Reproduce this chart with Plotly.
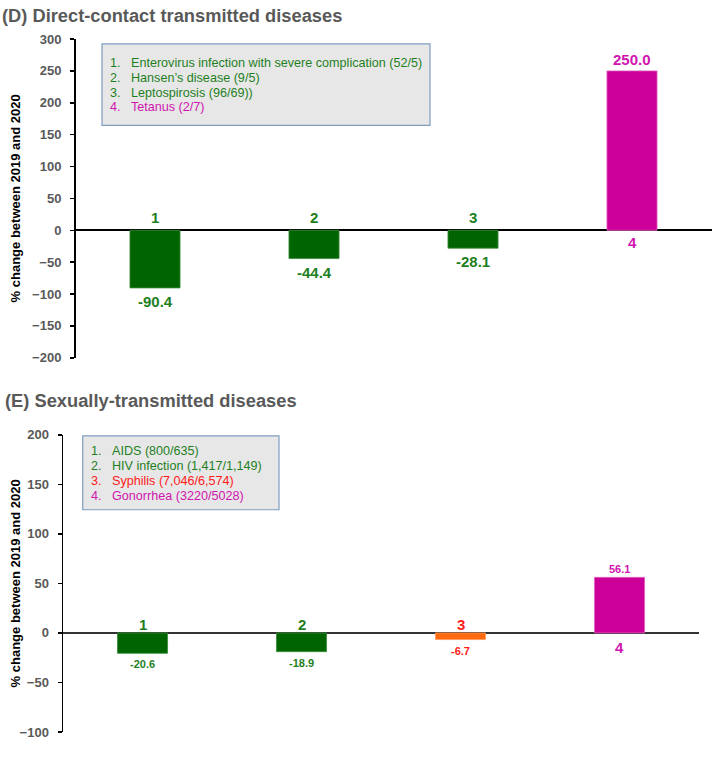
import plotly.graph_objects as go

W, H = 713, 774

# ---------------- data ----------------
categories = ["1", "2", "3", "4"]

d_title = "(D) Direct-contact transmitted diseases"
d_values = [-90.4, -44.4, -28.1, 250.0]
d_value_labels = ["-90.4", "-44.4", "-28.1", "250.0"]
d_legend = [
    "Enterovirus infection with severe complication (52/5)",
    "Hansen\u2019s disease (9/5)",
    "Leptospirosis (96/69))",
    "Tetanus (2/7)",
]
d_ticks = [-200, -150, -100, -50, 0, 50, 100, 150, 200, 250, 300]

e_title = "(E) Sexually-transmitted diseases"
e_values = [-20.6, -18.9, -6.7, 56.1]
e_value_labels = ["-20.6", "-18.9", "-6.7", "56.1"]
e_legend = [
    "AIDS (800/635)",
    "HIV infection (1,417/1,149)",
    "Syphilis (7,046/6,574)",
    "Gonorrhea (3220/5028)",
]
e_ticks = [-100, -50, 0, 50, 100, 150, 200]

y_title = "% change between 2019 and 2020"

# ---------------- styles ----------------
GREEN_BAR = "#006400"
MAGENTA_BAR = "#cc0099"
ORANGE_BAR = "#ff6a10"
GREEN_TXT = "#1f7f1f"
MAGENTA_TXT = "#d015b0"
RED_TXT = "#ff1a1a"
GREY = "#595959"
FONT = "Liberation Sans"

d_bar_colors = [GREEN_BAR, GREEN_BAR, GREEN_BAR, MAGENTA_BAR]
d_txt_colors = [GREEN_TXT, GREEN_TXT, GREEN_TXT, MAGENTA_TXT]
e_bar_colors = [GREEN_BAR, GREEN_BAR, ORANGE_BAR, MAGENTA_BAR]
e_txt_colors = [GREEN_TXT, GREEN_TXT, RED_TXT, MAGENTA_TXT]
d_edge_colors = ["#3c8c3c", "#3c8c3c", "#3c8c3c", "#e060c0"]
e_edge_colors = ["#3c8c3c", "#3c8c3c", "#ff9a5a", "#e060c0"]


def px(x):
    return x / W


def py(y):
    return 1 - y / H


fig = go.Figure()
fig.add_trace(go.Bar(x=categories, y=d_values, marker_color=d_bar_colors,
                     marker_line=dict(color=d_edge_colors, width=0.8),
                     width=0.315, xaxis="x", yaxis="y", showlegend=False,
                     hoverinfo="skip"))
fig.add_trace(go.Bar(x=categories, y=e_values, marker_color=e_bar_colors,
                     marker_line=dict(color=e_edge_colors, width=0.8),
                     width=0.315, xaxis="x2", yaxis="y2", showlegend=False,
                     hoverinfo="skip"))

yax_common = dict(
    showline=True, linecolor="black", linewidth=1.5,
    ticks="outside", ticklen=4, tickcolor="black", tickwidth=1.5,
    showgrid=False, zeroline=True,
    tickfont=dict(family=FONT, size=13, color=GREY, weight="bold"),
    ticklabelstandoff=6,
    fixedrange=True,
)

fig.update_layout(
    width=W, height=H,
    margin=dict(l=0, r=0, t=0, b=0),
    paper_bgcolor="white", plot_bgcolor="white",
    bargap=0.5,
    xaxis=dict(domain=[px(75.5), px(711.5)], range=[-0.5, 3.5], visible=False,
               type="category", categoryorder="array", categoryarray=categories,
               anchor="y", fixedrange=True),
    yaxis=dict(domain=[py(357.7), py(32.7)], range=[-200, 300], tickvals=d_ticks,
               zerolinecolor="black", zerolinewidth=1.6, anchor="x", **yax_common),
    xaxis2=dict(domain=[px(63), px(699)], range=[-0.5, 3.5], visible=False,
                type="category", categoryorder="array", categoryarray=categories,
                anchor="y2", fixedrange=True),
    yaxis2=dict(domain=[py(739.3), py(436.3)], range=[-100, 200], tickvals=e_ticks,
                zerolinecolor="#333333", zerolinewidth=2.2, anchor="x2", **yax_common),
)

ann = []
shapes = []

# titles
ann.append(dict(text=d_title, x=px(0), y=py(9), xref="paper", yref="paper",
                xanchor="left", yanchor="middle", showarrow=False,
                font=dict(family=FONT, size=18.3, color=GREY, weight="bold")))
ann.append(dict(text=e_title, x=px(3), y=py(401), xref="paper", yref="paper",
                xanchor="left", yanchor="middle", showarrow=False,
                font=dict(family=FONT, size=18.3, color=GREY, weight="bold")))

# axis titles
for yc in (195.2, 587.8):
    ann.append(dict(text=y_title, x=px(15), y=py(yc), xref="paper", yref="paper",
                    xanchor="center", yanchor="middle", textangle=-90, showarrow=False,
                    font=dict(family=FONT, size=13, color="black", weight="bold")))


def add_bar_labels(xref, yref, values, vlabels, colors, num_size, val_size,
                   num_shift_neg, num_shift_pos, val_shift_neg, val_shift_pos):
    for i, (c, v, lab, col) in enumerate(zip(categories, values, vlabels, colors)):
        neg = v < 0
        # category number on the opposite side of the zero line
        ann.append(dict(text=c, x=i, y=0, xref=xref, yref=yref,
                        xanchor="center", yanchor="bottom" if neg else "top",
                        yshift=num_shift_neg if neg else -num_shift_pos, showarrow=False,
                        font=dict(family=FONT, size=num_size, color=col, weight="bold")))
        # value at the end of the bar
        ann.append(dict(text=lab, x=i, y=v, xref=xref, yref=yref,
                        xanchor="center", yanchor="top" if neg else "bottom",
                        yshift=-val_shift_neg if neg else val_shift_pos, showarrow=False,
                        font=dict(family=FONT, size=val_size, color=col, weight="bold")))


add_bar_labels("x", "y", d_values, d_value_labels, d_txt_colors, 15, 15, 2, 2, 3, 1)
add_bar_labels("x2", "y2", e_values, e_value_labels, e_txt_colors, 15, 11, -2, 4, 3, 0)


def add_legend_box(x0, y0, x1, y1, items, colors, num_x, txt_x, line_ys, size):
    shapes.append(dict(type="rect", xref="paper", yref="paper",
                       x0=px(x0), x1=px(x1), y0=py(y1), y1=py(y0),
                       fillcolor="#e7e7e7", line=dict(color="#7f9cc0", width=1.2),
                       layer="above"))
    for i, (item, col, ly) in enumerate(zip(items, colors, line_ys)):
        ann.append(dict(text=f"{i + 1}.", x=px(num_x), y=py(ly), xref="paper",
                        yref="paper", xanchor="left", yanchor="middle",
                        showarrow=False, font=dict(family=FONT, size=size, color=col)))
        ann.append(dict(text=item, x=px(txt_x), y=py(ly), xref="paper",
                        yref="paper", xanchor="left", yanchor="middle",
                        showarrow=False, font=dict(family=FONT, size=size, color=col)))


add_legend_box(102, 37.7, 430, 120.7, d_legend, d_txt_colors, 108, 129,
               [57.3, 72.3, 87.3, 102.3], 12.6)
add_legend_box(82.7, 437.3, 279, 512.7, e_legend, e_txt_colors, 89, 110,
               [452.3, 468.0, 483.5, 499.0], 12.6)

fig.update_layout(annotations=ann, shapes=shapes)

fig.write_html("out.html",
               config={"displayModeBar": False, "staticPlot": True},
               post_script="document.body.style.margin='0';"
                           "document.documentElement.style.overflow='hidden';")
